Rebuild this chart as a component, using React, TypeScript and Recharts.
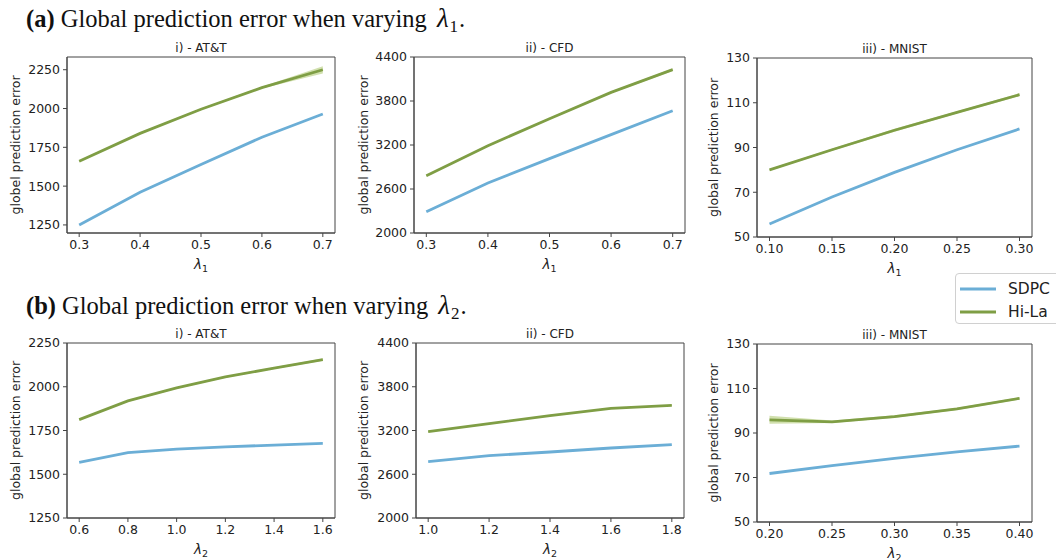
import { ComposedChart, Line, Area, XAxis, YAxis, Legend, ReferenceArea } from 'recharts'

const FONT = "'DejaVu Sans', sans-serif"
const BLUE = '#6baed6'
const GREEN = '#7f9e45'
const BAND = '#a3c25e'
const AXIS = '#444'

// (a) varying lambda1
const attL1 = [0.3, 0.4, 0.5, 0.6, 0.7]
const attL1Sdpc = [1250, 1460, 1640, 1815, 1965]
const attL1Hila = [1660, 1840, 1995, 2135, 2250]
const attL1HilaLo = [1655, 1835, 1990, 2129, 2226]
const attL1HilaHi = [1665, 1845, 2000, 2141, 2272]

const cfdL1 = [0.3, 0.4, 0.5, 0.6, 0.7]
const cfdL1Sdpc = [2291, 2682, 3014, 3341, 3668]
const cfdL1Hila = [2782, 3191, 3559, 3918, 4227]
const cfdL1HilaLo = [2772, 3181, 3549, 3906, 4210]
const cfdL1HilaHi = [2792, 3201, 3569, 3930, 4244]

const mnistL1 = [0.1, 0.15, 0.2, 0.25, 0.3]
const mnistL1Sdpc = [55.8, 67.9, 78.9, 89.0, 98.3]
const mnistL1Hila = [80.0, 89.0, 97.7, 105.7, 113.6]
const mnistL1HilaLo = [79.6, 88.6, 97.0, 105.2, 113.0]
const mnistL1HilaHi = [80.4, 89.4, 98.4, 106.2, 114.2]

// (b) varying lambda2
const attL2 = [0.6, 0.8, 1.0, 1.2, 1.4, 1.6]
const attL2Sdpc = [1568, 1623, 1644, 1656, 1667, 1677]
const attL2Hila = [1812, 1919, 1993, 2056, 2107, 2155]
const attL2HilaLo = [1808, 1915, 1989, 2052, 2102, 2149]
const attL2HilaHi = [1816, 1923, 1997, 2060, 2112, 2161]

const cfdL2 = [1.0, 1.2, 1.4, 1.6, 1.8]
const cfdL2Sdpc = [2773, 2855, 2905, 2960, 3006]
const cfdL2Hila = [3184, 3294, 3403, 3504, 3545]
const cfdL2HilaLo = [3176, 3287, 3396, 3497, 3537]
const cfdL2HilaHi = [3192, 3301, 3410, 3511, 3553]

const mnistL2 = [0.2, 0.25, 0.3, 0.35, 0.4]
const mnistL2Sdpc = [71.8, 75.3, 78.6, 81.5, 84.1]
const mnistL2Hila = [95.9, 95.0, 97.4, 100.8, 105.6]
const mnistL2HilaLo = [94.2, 94.5, 96.8, 100.3, 105.1]
const mnistL2HilaHi = [97.8, 95.6, 98.0, 101.3, 106.1]

// tick values
const ticksAttY = [1250, 1500, 1750, 2000, 2250]
const ticksCfdY = [2000, 2600, 3200, 3800, 4400]
const ticksMnistY = [50, 70, 90, 110, 130]
const ticksL1 = [0.3, 0.4, 0.5, 0.6, 0.7]
const ticksMnistL1 = [0.1, 0.15, 0.2, 0.25, 0.3]
const ticksAttL2 = [0.6, 0.8, 1.0, 1.2, 1.4, 1.6]
const ticksCfdL2 = [1.0, 1.2, 1.4, 1.6, 1.8]
const ticksMnistL2 = [0.2, 0.25, 0.3, 0.35, 0.4]

const SERIES = [
  { name: 'SDPC', color: BLUE },
  { name: 'Hi-La', color: GREEN },
]

function rows(x: number[], s: number[], h: number[], lo: number[], hi: number[]) {
  return x.map((v, i) => ({ x: v, sdpc: s[i], hila: h[i], band: [lo[i], hi[i]] }))
}

const LEFT = 67
const TOP = 22

interface PanelProps {
  rect: { left: number; top: number; width: number; height: number }
  title: string
  yLabel: string
  yGap: number
  sub: string
  xDomain: [number, number]
  xTicks: number[]
  xDigits: number
  yDomain: [number, number]
  yTicks: number[]
  data: any[]
  legend?: boolean
}

function Panel(p: PanelProps) {
  const { rect } = p
  const w = rect.width + LEFT + 6
  const h = rect.height + TOP + 46
  const tick = { fill: '#222', fontSize: 12.5, fontFamily: FONT }

  const titleLabel = (props: any) => {
    const vb = props.viewBox
    return (
      <text x={vb.x + vb.width / 2} y={vb.y - 5} textAnchor="middle" fontFamily={FONT} fontSize={12} fill="#222">
        {p.title}
      </text>
    )
  }
  const xLabel = (props: any) => {
    const vb = props.viewBox
    return (
      <text x={vb.x + vb.width / 2} y={vb.y + 36} textAnchor="middle" fontFamily={FONT} fontSize={13.5} fill="#222">
        <tspan fontStyle="italic">λ</tspan>
        <tspan fontSize={9.5} dy={3}>{p.sub}</tspan>
      </text>
    )
  }
  const yLabel = (props: any) => {
    const vb = props.viewBox
    const cx = vb.x + vb.width - p.yGap
    const cy = vb.y + vb.height / 2
    return (
      <text
        x={cx}
        y={cy}
        transform={`rotate(-90, ${cx}, ${cy})`}
        textAnchor="middle"
        dominantBaseline="central"
        fontFamily={FONT}
        fontSize={12.5}
        fill="#222"
      >
        {p.yLabel}
      </text>
    )
  }

  return (
    <div style={{ position: 'absolute', left: rect.left - LEFT, top: rect.top - TOP }}>
      <ComposedChart width={w} height={h} data={p.data} margin={{ top: TOP, right: 6, bottom: 0, left: 0 }}>
        <XAxis
          dataKey="x"
          type="number"
          domain={p.xDomain}
          ticks={p.xTicks}
          allowDataOverflow
          tickFormatter={(v: number) => v.toFixed(p.xDigits)}
          tick={tick}
          tickSize={4}
          tickMargin={3}
          height={46}
          stroke={AXIS}
          label={{ content: xLabel }}
        />
        <YAxis
          type="number"
          domain={p.yDomain}
          ticks={p.yTicks}
          allowDataOverflow
          tick={tick}
          tickSize={4}
          tickMargin={3}
          width={LEFT}
          stroke={AXIS}
          label={{ content: yLabel }}
        />
        <Area
          dataKey="band"
          type="linear"
          stroke="none"
          fill={BAND}
          fillOpacity={0.5}
          isAnimationActive={false}
          legendType="none"
        />
        <Line
          dataKey="sdpc"
          name="SDPC"
          type="linear"
          stroke={BLUE}
          strokeWidth={2.8}
          dot={false}
          isAnimationActive={false}
        />
        <Line
          dataKey="hila"
          name="Hi-La"
          type="linear"
          stroke={GREEN}
          strokeWidth={2.8}
          dot={false}
          isAnimationActive={false}
        />
        <ReferenceArea
          x1={p.xDomain[0]}
          x2={p.xDomain[1]}
          y1={p.yDomain[0]}
          y2={p.yDomain[1]}
          fill="none"
          fillOpacity={0}
          stroke={AXIS}
          strokeWidth={1}
          label={{ content: titleLabel }}
        />
        {p.legend && (
          <Legend
            layout="horizontal"
            verticalAlign="middle"
            align="center"
            wrapperStyle={{ position: 'absolute', left: 955 - (rect.left - LEFT), top: 273 - (rect.top - TOP), width: 'auto' }}
            content={() => (
              <div
                style={{
                  width: 110,
                  height: 51,
                  boxSizing: 'border-box',
                  border: '1px solid #d0d0d0',
                  borderRadius: 4,
                  background: 'rgba(255,255,255,0.85)',
                  fontFamily: FONT,
                  fontSize: 15.5,
                  color: '#222',
                  padding: '3px 0 0 4px',
                }}
              >
                {SERIES.map((s) => (
                  <div key={s.name} style={{ display: 'flex', alignItems: 'center', height: 23 }}>
                    <svg width={36} height={6} style={{ marginRight: 12 }}>
                      <line x1={0} y1={3} x2={36} y2={3} stroke={s.color} strokeWidth={3} />
                    </svg>
                    <span>{s.name}</span>
                  </div>
                ))}
              </div>
            )}
          />
        )}
      </ComposedChart>
    </div>
  )
}

function Heading({ top, tag, sub }: { top: number; tag: string; sub: string }) {
  return (
    <div
      style={{
        position: 'absolute',
        left: 26,
        top,
        fontFamily: "'Liberation Serif', serif",
        fontSize: 24.5,
        lineHeight: 1,
        color: '#111',
        whiteSpace: 'nowrap',
      }}
    >
      <b>({tag})</b> Global prediction error when varying{' '}
      <i style={{ fontSize: 27, marginLeft: 4 }}>λ</i>
      <span style={{ fontSize: 17, position: 'relative', top: 5, marginLeft: 1 }}>{sub}</span>
      <span style={{ marginLeft: 1 }}>.</span>
    </div>
  )
}

export default function App() {
  return (
    <div style={{ position: 'absolute', left: 0, top: 0, width: 1056, height: 560, background: '#fff', overflow: 'hidden' }}>
      <Heading top={5} tag="a" sub="1" />
      <Heading top={292} tag="b" sub="2" />

      <Panel
        rect={{ left: 67, top: 57, width: 268, height: 176 }}
        title="i) - AT&T"
        yLabel="globel prediction error"
        yGap={52}
        sub="1"
        xDomain={[0.28, 0.72]}
        xTicks={ticksL1}
        xDigits={1}
        yDomain={[1198, 2332]}
        yTicks={ticksAttY}
        data={rows(attL1, attL1Sdpc, attL1Hila, attL1HilaLo, attL1HilaHi)}
      />
      <Panel
        rect={{ left: 414, top: 57, width: 271, height: 176 }}
        title="ii) - CFD"
        yLabel="global prediction error"
        yGap={51}
        sub="1"
        xDomain={[0.28, 0.72]}
        xTicks={ticksL1}
        xDigits={1}
        yDomain={[2000, 4400]}
        yTicks={ticksCfdY}
        data={rows(cfdL1, cfdL1Sdpc, cfdL1Hila, cfdL1HilaLo, cfdL1HilaHi)}
      />
      <Panel
        rect={{ left: 757, top: 58, width: 275, height: 179 }}
        title="iii) - MNIST"
        yLabel="global prediction error"
        yGap={44}
        sub="1"
        xDomain={[0.09, 0.31]}
        xTicks={ticksMnistL1}
        xDigits={2}
        yDomain={[50, 130]}
        yTicks={ticksMnistY}
        data={rows(mnistL1, mnistL1Sdpc, mnistL1Hila, mnistL1HilaLo, mnistL1HilaHi)}
        legend
      />

      <Panel
        rect={{ left: 67, top: 343, width: 268, height: 175 }}
        title="i) - AT&T"
        yLabel="global prediction error"
        yGap={52}
        sub="2"
        xDomain={[0.55, 1.65]}
        xTicks={ticksAttL2}
        xDigits={1}
        yDomain={[1250, 2250]}
        yTicks={ticksAttY}
        data={rows(attL2, attL2Sdpc, attL2Hila, attL2HilaLo, attL2HilaHi)}
      />
      <Panel
        rect={{ left: 416, top: 343, width: 268, height: 175 }}
        title="ii) - CFD"
        yLabel="global prediction error"
        yGap={53}
        sub="2"
        xDomain={[0.96, 1.84]}
        xTicks={ticksCfdL2}
        xDigits={1}
        yDomain={[2000, 4400]}
        yTicks={ticksCfdY}
        data={rows(cfdL2, cfdL2Sdpc, cfdL2Hila, cfdL2HilaLo, cfdL2HilaHi)}
      />
      <Panel
        rect={{ left: 757, top: 344, width: 275, height: 178 }}
        title="iii) - MNIST"
        yLabel="global prediction error"
        yGap={44}
        sub="2"
        xDomain={[0.19, 0.41]}
        xTicks={ticksMnistL2}
        xDigits={2}
        yDomain={[50, 130]}
        yTicks={ticksMnistY}
        data={rows(mnistL2, mnistL2Sdpc, mnistL2Hila, mnistL2HilaLo, mnistL2HilaHi)}
      />
    </div>
  )
}
